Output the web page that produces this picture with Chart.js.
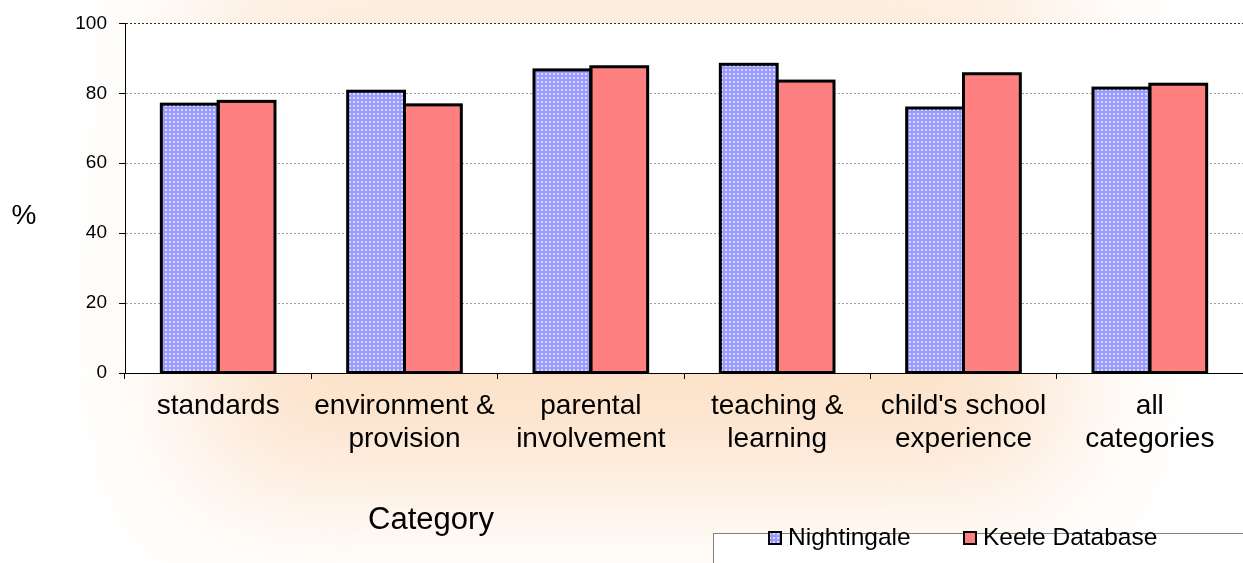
<!DOCTYPE html>
<html>
<head>
<meta charset="utf-8">
<title>Category comparison</title>
<script src="https://cdn.jsdelivr.net/npm/chart.js@4/dist/chart.umd.min.js"></script>
<style>
  html, body { margin: 0; padding: 0; background: #ffffff; }
  #wrap { width: 1243px; height: 563px; position: relative; }
</style>
</head>
<body>
<div id="wrap"><canvas id="c" width="1243" height="563"></canvas></div>
<script>
// ---- data ----
const categories = [
  ["standards"],
  ["environment &", "provision"],
  ["parental", "involvement"],
  ["teaching &", "learning"],
  ["child's school", "experience"],
  ["all", "categories"]
];
const nightingale = [76.9, 80.6, 86.7, 88.3, 75.8, 81.5];
const keele = [77.7, 76.7, 87.6, 83.5, 85.6, 82.6];
const seriesNames = ["Nightingale", "Keele Database"];
const yTickValues = [0, 20, 40, 60, 80, 100];
const xTitle = "Category";
const yTitle = "%";

const FONT = '"Liberation Sans", Arial, Helvetica, sans-serif';
Chart.defaults.font.family = FONT;
Chart.defaults.color = '#000000';

const canvas = document.getElementById('c');
const ctx2d = canvas.getContext('2d');

// small dotted fill used for the first series
function dotPattern(ctx) {
  const t = document.createElement('canvas');
  t.width = 4; t.height = 4;
  const g = t.getContext('2d');
  g.fillStyle = '#9a9aff';
  g.fillRect(0, 0, 4, 4);
  g.fillStyle = '#d8d8ff';
  g.fillRect(1, 1, 2, 2);
  return ctx.createPattern(t, 'repeat');
}
const bluePattern = dotPattern(ctx2d);
const redFill = '#ff8080';

// page background: soft peach glow behind the plot, white plot area
const backdrop = {
  id: 'backdrop',
  beforeDraw(chart) {
    const { ctx, width, height, chartArea } = chart;
    ctx.save();
    ctx.fillStyle = '#ffffff';
    ctx.fillRect(0, 0, width, height);

    ctx.save();
    ctx.filter = 'blur(70px)';
    const lin = ctx.createLinearGradient(0, 0, 0, 470);
    lin.addColorStop(0, 'rgb(253,238,224)');
    lin.addColorStop(0.8, 'rgb(252,224,198)');
    lin.addColorStop(1, 'rgb(252,222,195)');
    ctx.fillStyle = lin;
    ctx.fillRect(200, -100, 860, 580);
    ctx.restore();

    ctx.fillStyle = '#ffffff';
    ctx.fillRect(chartArea.left, chartArea.top, chartArea.right - chartArea.left, chartArea.bottom - chartArea.top);
    ctx.restore();
  }
};

// black outlines centred on the bar edges
const barOutlines = {
  id: 'barOutlines',
  afterDatasetsDraw(chart) {
    const { ctx } = chart;
    ctx.save();
    ctx.strokeStyle = '#000000';
    ctx.lineWidth = 3;
    ctx.lineJoin = 'miter';
    chart.data.datasets.forEach((ds, i) => {
      chart.getDatasetMeta(i).data.forEach(bar => {
        const p = bar.getProps(['x', 'y', 'base', 'width'], true);
        ctx.strokeRect(p.x - p.width / 2, p.y, p.width, p.base - p.y);
      });
    });
    ctx.restore();
  }
};

// axis titles and the legend box
const annotations = {
  id: 'annotations',
  afterDraw(chart) {
    const { ctx } = chart;
    ctx.save();
    ctx.fillStyle = '#000000';
    ctx.textBaseline = 'middle';
    ctx.textAlign = 'center';
    ctx.font = '28px ' + FONT;
    ctx.fillText(yTitle, 24, 216);
    ctx.font = '31px ' + FONT;
    ctx.fillText(xTitle, 431, 520);

    // legend
    ctx.fillStyle = '#ffffff';
    ctx.fillRect(713.5, 533.5, 540, 40);
    ctx.strokeStyle = '#808080';
    ctx.lineWidth = 1;
    ctx.strokeRect(713.5, 533.5, 540, 40);

    const items = [
      { x: 768, fill: bluePattern, label: chart.data.datasets[0].label },
      { x: 963, fill: redFill, label: chart.data.datasets[1].label }
    ];
    ctx.font = '24.5px ' + FONT;
    ctx.textAlign = 'left';
    items.forEach(it => {
      ctx.fillStyle = it.fill;
      ctx.fillRect(it.x, 531, 14, 14);
      ctx.strokeStyle = '#000000';
      ctx.lineWidth = 2;
      ctx.strokeRect(it.x + 1, 532, 12, 12);
      ctx.fillStyle = '#000000';
      ctx.fillText(it.label, it.x + 20, 538.5);
    });
    ctx.restore();
  }
};

new Chart(canvas, {
  type: 'bar',
  data: {
    labels: categories,
    datasets: [
      {
        label: seriesNames[0],
        data: nightingale,
        backgroundColor: bluePattern,
        borderWidth: 0,
        categoryPercentage: 0.61,
        barPercentage: 1.0
      },
      {
        label: seriesNames[1],
        data: keele,
        backgroundColor: redFill,
        borderWidth: 0,
        categoryPercentage: 0.61,
        barPercentage: 1.0
      }
    ]
  },
  options: {
    responsive: false,
    animation: false,
    devicePixelRatio: 1,
    layout: { padding: { top: 22, right: 0, left: 0, bottom: 0 } },
    plugins: {
      legend: { display: false },
      tooltip: { enabled: false },
      title: { display: false }
    },
    scales: {
      x: {
        afterFit(scale) { scale.height = 190; },
        grid: {
          offset: true,
          drawOnChartArea: false,
          drawTicks: true,
          tickLength: 6,
          color: '#000000',
          tickColor: '#000000',
          lineWidth: 1
        },
        border: { display: true, color: '#000000', width: 1 },
        ticks: {
          autoSkip: false,
          maxRotation: 0,
          minRotation: 0,
          padding: 11,
          color: '#000000',
          font: { size: 28, lineHeight: 1.18 }
        }
      },
      y: {
        min: 0,
        max: 100,
        afterFit(scale) { scale.width = 125; },
        afterBuildTicks(scale) {
          scale.ticks = yTickValues.map(v => ({ value: v }));
        },
        grid: {
          drawTicks: true,
          tickLength: 6,
          tickColor: '#000000',
          lineWidth: 1,
          color(ctx) {
            if (!ctx.tick) return '#a0a0a0';
            if (ctx.tick.value === 0) return 'rgba(0,0,0,0)';
            if (ctx.tick.value === 100) return '#303030';
            return '#a0a0a0';
          }
        },
        border: { display: true, color: '#000000', width: 1, dash: [2, 2] },
        ticks: {
          padding: 12,
          color: '#000000',
          font: { size: 19 }
        }
      }
    }
  },
  plugins: [backdrop, barOutlines, annotations]
});
</script>
</body>
</html>
